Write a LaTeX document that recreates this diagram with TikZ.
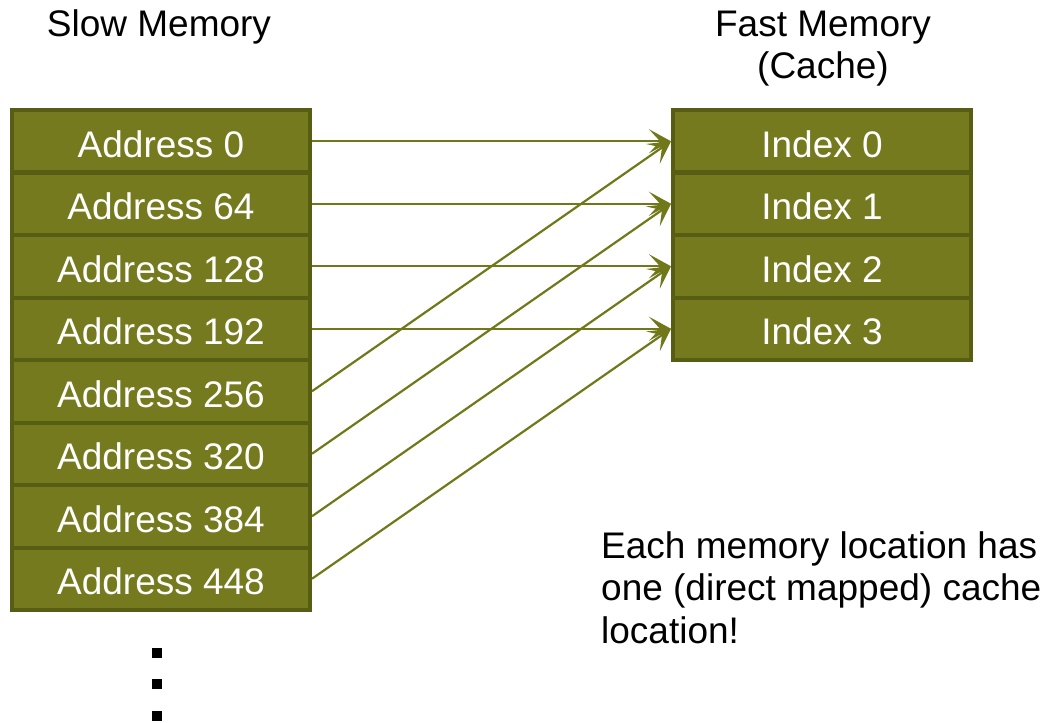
\documentclass[tikz,border=0pt]{standalone}
\usepackage{fontspec}
\setmainfont{Liberation Sans}
\usetikzlibrary{arrows.meta}
\definecolor{cellfill}{RGB}{117,122,31}
\definecolor{cellline}{RGB}{88,93,20}
\definecolor{maparrow}{RGB}{112,120,26}

\begin{document}
\begin{tikzpicture}[x=1pt, y=-1pt,
  cell/.style={draw=cellline, fill=cellfill, line width=4pt, minimum width=298pt,
    minimum height=62.5pt, inner sep=0pt, text height=32pt, text depth=0pt,
    text=white, font=\fontsize{37}{42}\selectfont},
  maplink/.style={draw=maparrow, line width=2.2pt,
    -{Stealth[length=22pt, width=24pt, inset=11pt]}},
  label/.style={font=\fontsize{37}{42.5}\selectfont, inner sep=0pt}]
  \useasboundingbox (0,0) rectangle (1048,722);
  \def\xS{161} \def\xF{822} \def\yT{110} \def\dy{62.5}
  % slow memory: one cell per 64-byte address
  \foreach \k in {0,...,7} {
    \pgfmathtruncatemacro{\addr}{64*\k}
    \node[cell] (a\k) at (\xS,\yT+\dy*\k+\dy/2) {Address \addr};
  }
  % cache: four indices
  \foreach \k in {0,...,3} {
    \node[cell] (i\k) at (\xF,\yT+\dy*\k+\dy/2) {Index \k};
  }
  % direct mapping: address k goes to index k mod 4
  \foreach \k in {0,...,7} {
    \pgfmathtruncatemacro{\m}{mod(\k,4)}
    \draw[maplink] (a\k.east) -- (i\m.west);
  }
  % base of a multi-line node = baseline of its last line
  \node[label, anchor=base] (slowtitle) at (159,37) {Slow Memory};
  \node[label, anchor=base, align=center] (fasttitle) at (823,79) {Fast Memory\\(Cache)};
  \node[label, anchor=base west, align=left] (note) at (601,643)
    {Each memory location has\\one (direct mapped) cache\\location!};
  \foreach \y in {653,684,716}
    \fill (152,\y-5) rectangle (162,\y+5);
\end{tikzpicture}
\end{document}
